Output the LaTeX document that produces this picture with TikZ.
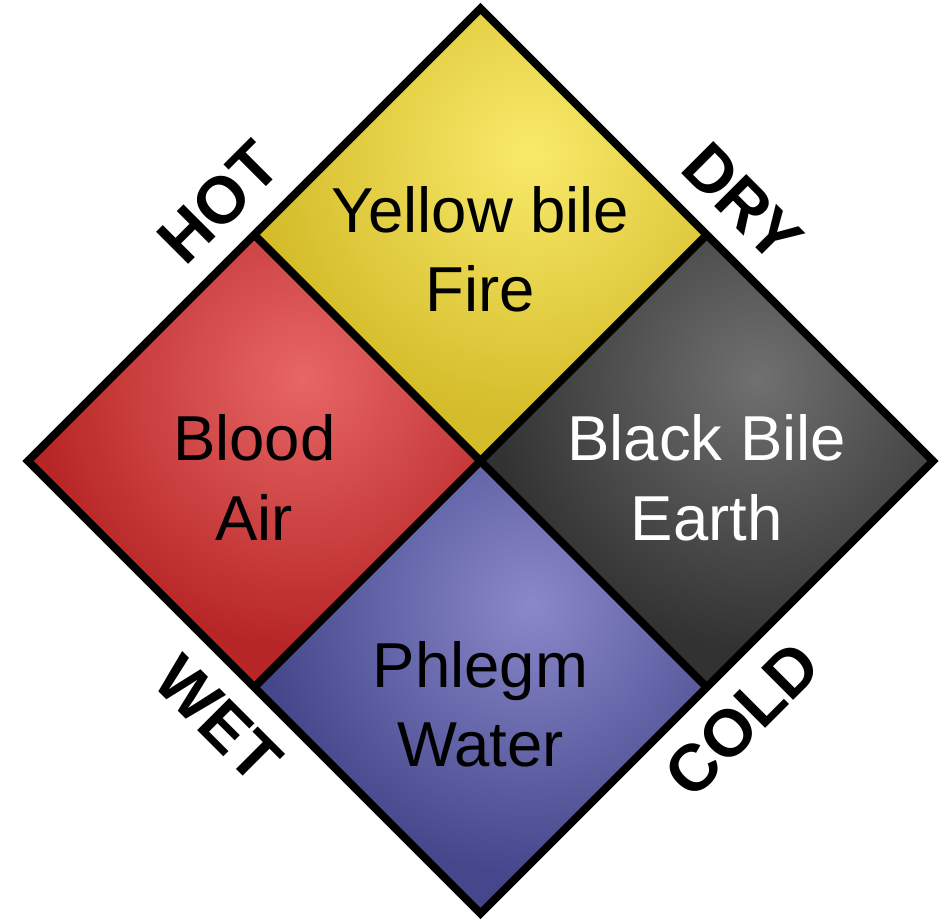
\documentclass[tikz,border=0pt]{standalone}
\usepackage{fontspec}
\setmainfont{Liberation Sans}
\definecolor{ybase}{RGB}{212,188,42}
\definecolor{ylight}{RGB}{249,234,106}
\definecolor{rbase}{RGB}{183,38,38}
\definecolor{rlight}{RGB}{232,102,102}
\definecolor{kbase}{RGB}{50,50,50}
\definecolor{klight}{RGB}{112,112,112}
\definecolor{bbase}{RGB}{70,70,140}
\definecolor{blight}{RGB}{136,136,202}
\begin{document}
\begin{tikzpicture}[x=1pt,y=-1pt,
  quadtext/.style={anchor=base,font=\fontsize{63.5}{78}\selectfont,inner sep=0pt},
  lab/.style={font=\fontsize{66}{78}\selectfont\bfseries,inner sep=0pt,anchor=center},
  border/.style={line width=8pt,line join=miter,draw=black}]
\useasboundingbox (0,0) rectangle (951,920);
\coordinate (T) at (480.5,8.5);
\coordinate (L) at (28,461);
\coordinate (R) at (933,461);
\coordinate (B) at (480.5,913.5);
\coordinate (C) at (480.5,461);
\coordinate (TL) at (254.25,234.75);
\coordinate (TR) at (706.75,234.75);
\coordinate (BL) at (254.25,687.25);
\coordinate (BR) at (706.75,687.25);
% yellow
\begin{scope}
\clip (T)--(TR)--(C)--(TL)--cycle;
\fill[ybase] (T)--(TR)--(C)--(TL)--cycle;
\shade[inner color=ylight,outer color=ybase] (530,153) circle (270pt);
\end{scope}
% red
\begin{scope}
\clip (TL)--(C)--(BL)--(L)--cycle;
\fill[rbase] (TL)--(C)--(BL)--(L)--cycle;
\shade[inner color=rlight,outer color=rbase] (303,377) circle (270pt);
\end{scope}
% black
\begin{scope}
\clip (TR)--(R)--(BR)--(C)--cycle;
\fill[kbase] (TR)--(R)--(BR)--(C)--cycle;
\shade[inner color=klight,outer color=kbase] (758,379) circle (270pt);
\end{scope}
% blue
\begin{scope}
\clip (C)--(BR)--(B)--(BL)--cycle;
\fill[bbase] (C)--(BR)--(B)--(BL)--cycle;
\shade[inner color=blight,outer color=bbase] (531,605) circle (270pt);
\end{scope}
\draw[border] (T)--(R)--(B)--(L)--cycle;
\draw[border] (TL)--(BR);
\draw[border] (TR)--(BL);
% texts
\node[quadtext] (y1) at (480.5,233) {Yellow bile};
\node[quadtext] (y2) at (480.5,312) {Fire};
\node[quadtext] (r1) at (254.25,460) {Blood};
\node[quadtext] (r2) at (254.25,540) {Air};
\node[quadtext,text=white] (k1) at (706.75,460) {Black Bile};
\node[quadtext,text=white] (k2) at (706.75,540) {Earth};
\node[quadtext] (b1) at (480.5,687) {Phlegm};
\node[quadtext] (b2) at (480.5,766) {Water};
% labels
\node[lab,rotate=45] (hot) at (218.5,202.5) {HOT};
\node[lab,rotate=-45] (dry) at (742.5,202.5) {DRY};
\node[lab,rotate=-45] (wet) at (218.5,719.5) {WET};
\node[lab,rotate=45] (cold) at (742.5,719.5) {COLD};
\end{tikzpicture}
\end{document}
